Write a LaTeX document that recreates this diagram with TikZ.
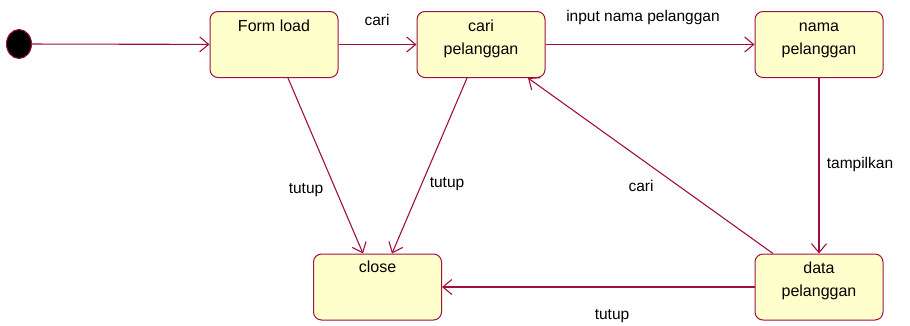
\documentclass[tikz,border=0pt]{standalone}
\usepackage{fontspec}
\setmainfont{Liberation Sans}
\usetikzlibrary{arrows.meta,shapes.geometric}
\definecolor{edge}{HTML}{A0103F}
\definecolor{statefill}{HTML}{FFFFCC}
\begin{document}
\begin{tikzpicture}[x=1pt,y=-1pt,
  statebox/.style={draw=edge,fill=statefill,rounded corners=8pt,line width=1pt,minimum width=128pt,minimum height=66pt,inner sep=0pt},
  txt/.style={font=\fontsize{16}{23.5}\selectfont,align=center,inner sep=0pt,anchor=base},
  lbl/.style={font=\fontsize{15.5}{18}\selectfont,inner sep=0pt,anchor=base},
  tr/.style={draw=edge,line width=1.1pt,-{Straight Barb[length=9pt,width=15pt,line width=1.1pt]}}]
\useasboundingbox (0,0) rectangle (910,325);
\node[draw=edge,fill=black,ellipse,minimum width=25pt,minimum height=29pt,inner sep=0pt,line width=1pt] (init) at (19,44) {};
\node[statebox] (form) at (274,44.5) {};
\node[statebox] (cari) at (481,44.5) {};
\node[statebox] (nama) at (819,44.5) {};
\node[statebox] (close) at (377.5,287) {};
\node[statebox] (data) at (819,287) {};
\node[txt] (tform) at ([yshift=-20pt]form.north) {Form load};
\node[txt] (tcari) at ([yshift=-43.5pt]cari.north) {cari\\pelanggan};
\node[txt] (tnama) at ([yshift=-43.5pt]nama.north) {nama\\pelanggan};
\node[txt] (tclose) at ([yshift=-19pt]close.north) {close};
\node[txt] (tdata) at ([yshift=-43pt]data.north) {data\\pelanggan};
\draw[tr] (init) -- (form);
\draw[tr] (form) -- (cari) node[lbl] (l1) at (377,25) {cari};
\draw[tr] (cari) -- (nama) node[lbl] (l2) at (643,21) {input nama pelanggan};
\draw[tr] (nama) -- (data) node[lbl] (l3) at (860,168) {tampilkan};
\draw[tr] (data) -- (close) node[lbl] (l4) at (612,319) {tutup};
\draw[tr] ([xshift=14pt]form.south) -- ([xshift=-14.5pt]close.north) node[lbl] (l5) at (306,193) {tutup};
\draw[tr] ([xshift=-14pt]cari.south) -- ([xshift=14.5pt]close.north) node[lbl] (l6) at (447,187) {tutup};
\draw[tr] ([xshift=-46pt]data.north) -- ([xshift=47pt]cari.south) node[lbl] (l7) at (641,191) {cari};
\end{tikzpicture}
\end{document}
